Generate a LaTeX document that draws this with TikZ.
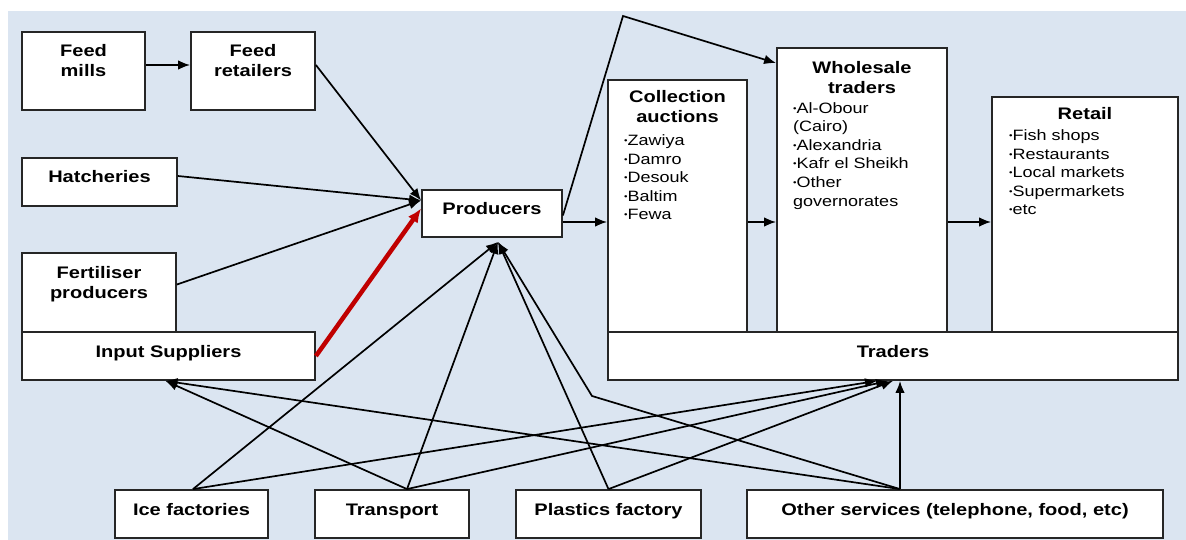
\documentclass[tikz,border=0pt]{standalone}
\usepackage{fontspec}
\setmainfont{Liberation Sans}[FakeStretch=1.2]
\usetikzlibrary{arrows.meta}
\definecolor{bgblue}{RGB}{219,229,241}
\definecolor{arrred}{RGB}{192,0,0}
\tikzset{
  boxed/.style   = {draw=black!85,line width=1.8pt,fill=white,inner sep=0pt},
  flowarr/.style = {-{Latex[length=12pt,width=9.5pt]},line width=1.7pt},
  redarr/.style  = {-{Latex[length=14pt,width=12pt]},line width=4.5pt,arrred},
  ttl/.style     = {font=\bfseries\fontsize{16.7}{20}\selectfont,align=center,inner sep=0pt,anchor=north},
  lst/.style     = {font=\fontsize{15}{18.6}\selectfont,align=left,inner sep=0pt,anchor=north west},
  boxtxt/.style  = {font=\bfseries\fontsize{16.7}{20}\selectfont,text height=8pt,text depth=6pt}
}
\newcommand{\itm}{\raisebox{0.25ex}{\scalebox{0.55}{\textbullet}}}

\begin{document}
\begin{tikzpicture}[x=1pt,y=-1pt]
  \useasboundingbox (0,0) rectangle (1186,540);
  \fill[white] (0,0) rectangle (1186,540);
  \fill[bgblue] (8,11) rectangle (1186,540);
  % input suppliers
  \node[boxed,minimum width=123,minimum height=78] (fmills) at (83.5,71) {};
  \node[ttl] (fmillsT) at ([yshift=-13.5pt]fmills.north) {Feed\\mills};
  \node[boxed,minimum width=124,minimum height=78] (fretail) at (253,71) {};
  \node[ttl] (fretailT) at ([yshift=-13.5pt]fretail.north) {Feed\\retailers};
  \node[boxed,boxtxt,minimum width=155,minimum height=48] (hatch) at (99.5,182) {Hatcheries};
  \node[boxed,minimum width=154,minimum height=79] (fert) at (99,292.5) {};
  \node[ttl] (fertT) at ([yshift=-14.5pt]fert.north) {Fertiliser\\producers};
  \node[boxed,boxtxt,minimum width=293,minimum height=48] (input) at (168.5,356) {Input Suppliers};
  \node[boxed,boxtxt,minimum width=140,minimum height=47] (prod) at (492,213.5) {Producers};
  % traders
  \node[boxed,minimum width=139,minimum height=252] (coll) at (677.5,206) {};
  \node[ttl] (collT) at ([yshift=-11.5pt]coll.north) {Collection\\auctions};
  \node[lst] (collL) at (624,134.5) {\itm Zawiya\\\itm Damro\\\itm Desouk\\\itm Baltim\\\itm Fewa};
  \node[boxed,minimum width=170,minimum height=284] (whole) at (862,190) {};
  \node[ttl] (wholeT) at ([yshift=-14pt]whole.north) {Wholesale\\traders};
  \node[lst] (wholeL) at (793,102) {\itm Al-Obour\\(Cairo)\\\itm Alexandria\\\itm Kafr el Sheikh\\\itm Other\\governorates};
  \node[boxed,minimum width=186,minimum height=235] (retail) at (1085,214.5) {};
  \node[ttl] (retailT) at ([yshift=-11pt]retail.north) {Retail};
  \node[lst] (retailL) at (1009,129.5) {\itm Fish shops\\\itm Restaurants\\\itm Local markets\\\itm Supermarkets\\\itm etc};
  \node[boxed,boxtxt,minimum width=570,minimum height=48] (traders) at (893,356) {Traders};
  % services
  \node[boxed,boxtxt,minimum width=153,minimum height=48] (ice) at (191.5,514) {Ice factories};
  \node[boxed,boxtxt,minimum width=154,minimum height=48] (transp) at (392,514) {Transport};
  \node[boxed,boxtxt,minimum width=185,minimum height=48] (plast) at (608.5,514) {Plastics factory};
  \node[boxed,boxtxt,minimum width=416,minimum height=48] (other) at (955,514) {Other services (telephone, food, etc)};
  % hub points
  \coordinate (prodL) at ([yshift=13pt]prod.west);
  \coordinate (prodB) at ([xshift=6pt,yshift=-4pt]prod.south);
  \coordinate (pOut) at ([yshift=-8.5pt]prod.east);
  \coordinate (topBend) at (623,16);
  \coordinate (lowBend) at (592,396);
  \coordinate (iceTop) at ([xshift=1.5pt]ice.north);
  \coordinate (trTop) at ([xshift=15pt]transp.north);
  \coordinate (plTop) at (plast.north);
  \coordinate (osTop) at ([xshift=-55pt]other.north);
  \coordinate (inB) at ([xshift=-3pt]input.south);
  % flows into producers
  \draw[flowarr] ([yshift=6pt]fmills.east) -- ([yshift=6pt]fretail.west);
  \draw[flowarr] ([yshift=6pt]fretail.east) -- (prodL);
  \draw[flowarr] ([yshift=6pt]hatch.east) -- (prodL);
  \draw[flowarr] ([yshift=8pt]fert.east) -- (prodL);
  \draw[redarr] (input.east) -- ([yshift=5pt]prod.west);
  % flows to traders
  \draw[flowarr] (pOut) -- (pOut -| coll.west);
  \draw[flowarr] ([yshift=-2pt]prod.east) -- (topBend) -- ([yshift=-16pt]whole.north west);
  \draw[flowarr] (coll.east |- pOut) -- (whole.west |- pOut);
  \draw[flowarr] (whole.east |- pOut) -- (retail.west |- pOut);
  % services
  \draw[flowarr] (iceTop) -- (prodB);
  \draw[flowarr] (trTop) -- (prodB);
  \draw[flowarr] (plTop) -- (prodB);
  \draw[flowarr] (osTop) -- (lowBend) -- (prodB);
  \draw[flowarr] (trTop) -- (inB);
  \draw[flowarr] (osTop) -- (inB);
  \draw[flowarr] (iceTop) -- ([xshift=-16pt]traders.south);
  \draw[flowarr] (trTop) -- ([xshift=-5pt]traders.south);
  \draw[flowarr] (plTop) -- (traders.south);
  \draw[flowarr] (osTop) -- (osTop |- traders.south);
\end{tikzpicture}
\end{document}
